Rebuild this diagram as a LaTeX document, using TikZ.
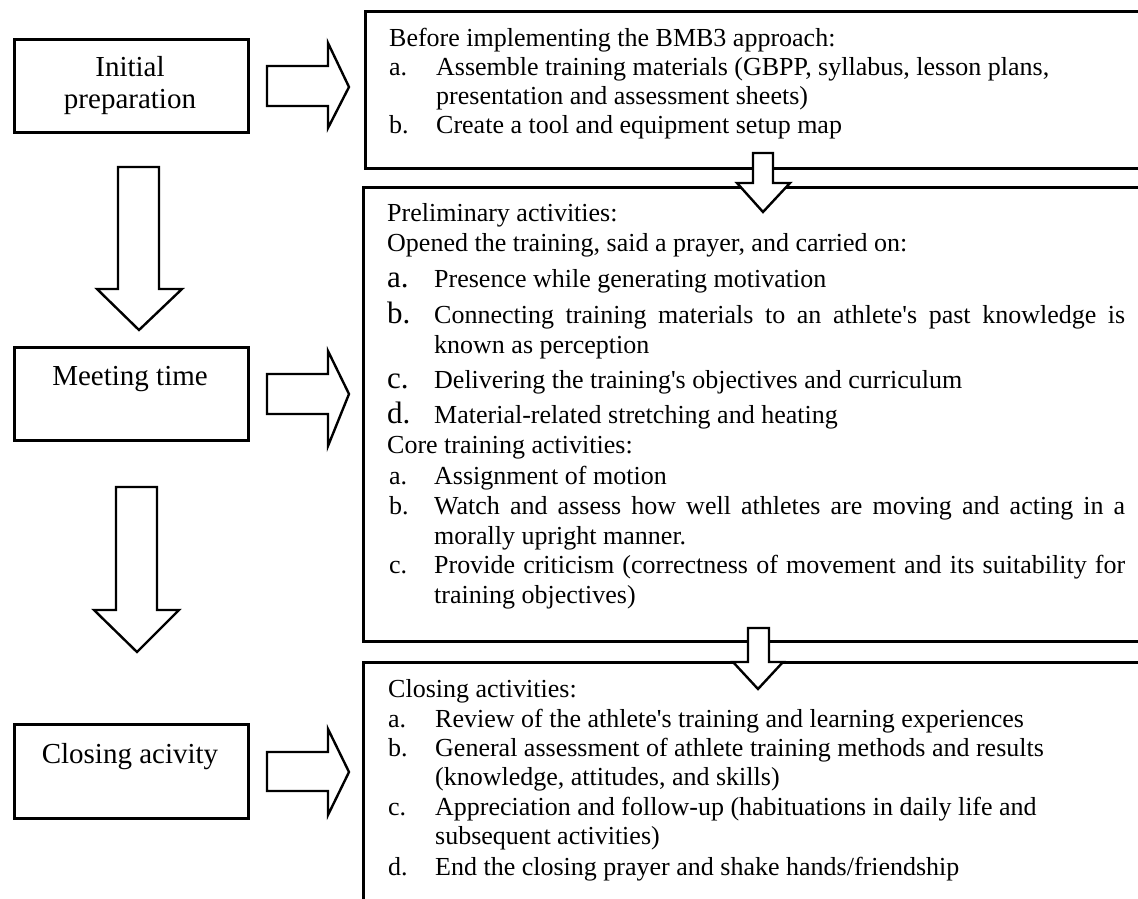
\documentclass[tikz,border=0pt]{standalone}
\usepackage{fontspec}
\setmainfont{Liberation Serif}
\newcommand{\apo}{\textquotesingle}
\begin{document}
\begin{tikzpicture}[x=1pt,y=-1pt,
  box/.style={draw, line width=2.6pt, fill=white, inner sep=0pt, anchor=north west},
  barrow/.style={draw, line width=2.4pt, fill=white, line join=miter},
  lt/.style={anchor=base west, inner sep=0pt, font=\fontsize{26}{30}\selectfont},
  big/.style={anchor=base west, inner sep=0pt, font=\fontsize{31}{34}\selectfont},
  side/.style={anchor=base, inner sep=0pt, font=\fontsize{29}{32}\selectfont}]
\useasboundingbox (0,0) rectangle (1138,898);
\clip (0,0) rectangle (1138,898);
% left boxes
\node[box, minimum width=234pt, minimum height=93pt] (init) at (13,38) {};
\node[box, minimum width=234pt, minimum height=93pt] (meet) at (13,346) {};
\node[box, minimum width=234pt, minimum height=94pt] (close) at (13,723) {};
\node[side] (t1) at (130,76) {Initial};
\node[side] (t2) at (130,108) {preparation};
\node[side] (t3) at (130,385) {Meeting time};
\node[side] (t4) at (130,763) {Closing acivity};
% right boxes
\node[box, minimum width=800pt, minimum height=157pt] (before) at (364,10) {};
\node[box, minimum width=800pt, minimum height=454pt] (core) at (362,186) {};
\node[box, minimum width=800pt, minimum height=260pt] (closing) at (362,661) {};
% horizontal block arrows
\draw[barrow] (267,66) -- (328,66) -- (328,43) -- (349,87) -- (328,128) -- (328,106) -- (267,106) -- cycle;
\draw[barrow] (267,374) -- (328,374) -- (328,351) -- (349,394) -- (328,446) -- (328,414) -- (267,414) -- cycle;
\draw[barrow] (267,752) -- (328,752) -- (328,729) -- (349,772) -- (328,815) -- (328,791) -- (267,791) -- cycle;
% left vertical block arrows
\draw[barrow] (118,167) -- (159,167) -- (159,289) -- (182,289) -- (139,330) -- (97,289) -- (118,289) -- cycle;
\draw[barrow] (116,487) -- (157,487) -- (157,610) -- (179,610) -- (137,652) -- (94,610) -- (116,610) -- cycle;
% right vertical block arrows
\draw[barrow] (753,153) -- (773,153) -- (773,183) -- (790,183) -- (763,212) -- (737,183) -- (753,183) -- cycle;
\draw[barrow] (748,628) -- (769,628) -- (769,662) -- (783,662) -- (758,689) -- (733,662) -- (748,662) -- cycle;
% top box text
\node[lt] (b0) at (389,46) {Before implementing the BMB3 approach:};
\node[lt] (b1l) at (389,75) {a.};
\node[lt] (b1) at (436,75) {Assemble training materials (GBPP, syllabus, lesson plans,};
\node[lt] (b1b) at (436,104) {presentation and assessment sheets)};
\node[lt] (b2l) at (389,133) {b.};
\node[lt] (b2) at (436,133) {Create a tool and equipment setup map};
% middle box text
\node[lt] (m0) at (387,221) {Preliminary activities:};
\node[lt] (m00) at (387,251) {Opened the training, said a prayer, and carried on:};
\node[big] (m1l) at (387,287) {a.};
\node[lt] (m1) at (434,287) {Presence while generating motivation};
\node[big] (m2l) at (387,323) {b.};
\node[lt] (m2) at (434,323) {\makebox[691pt][s]{Connecting training materials to an athlete\apo s past knowledge is}};
\node[lt] (m2b) at (434,353) {known as perception};
\node[big] (m3l) at (387,388) {c.};
\node[lt] (m3) at (434,388) {Delivering the training\apo s objectives and curriculum};
\node[big] (m4l) at (387,423) {d.};
\node[lt] (m4) at (434,423) {Material-related stretching and heating};
\node[lt] (c0) at (387,453) {Core training activities:};
\node[lt] (c1l) at (389,484) {a.};
\node[lt] (c1) at (434,484) {Assignment of motion};
\node[lt] (c2l) at (389,514) {b.};
\node[lt] (c2) at (434,514) {\makebox[691pt][s]{Watch and assess how well athletes are moving and acting in a}};
\node[lt] (c2b) at (434,544) {morally upright manner.};
\node[lt] (c3l) at (389,573) {c.};
\node[lt] (c3) at (434,573) {\makebox[691pt][s]{Provide criticism (correctness of movement and its suitability for}};
\node[lt] (c3b) at (434,603) {training objectives)};
% bottom box text
\node[lt] (e0) at (388,697) {Closing activities:};
\node[lt] (e1l) at (388,727) {a.};
\node[lt] (e1) at (435,727) {Review of the athlete\apo s training and learning experiences};
\node[lt] (e2l) at (388,756) {b.};
\node[lt] (e2) at (435,756) {General assessment of athlete training methods and results};
\node[lt] (e2b) at (435,785) {(knowledge, attitudes, and skills)};
\node[lt] (e3l) at (388,815) {c.};
\node[lt] (e3) at (435,815) {Appreciation and follow-up (habituations in daily life and};
\node[lt] (e3b) at (435,844) {subsequent activities)};
\node[lt] (e4l) at (388,875) {d.};
\node[lt] (e4) at (435,875) {End the closing prayer and shake hands/friendship};
\end{tikzpicture}
\end{document}
